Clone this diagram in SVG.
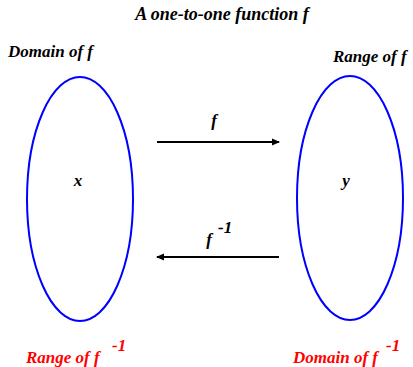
<svg xmlns="http://www.w3.org/2000/svg" width="413" height="367" viewBox="0 0 413 367">
<style>
text{font-family:"Liberation Serif","Times New Roman",serif;font-weight:bold;font-style:italic;font-size:17px;fill:#000}
.title{font-size:18px}
.red{fill:#ff0000}
.oval{fill:none;stroke:#0000ff;stroke-width:2}
.arr{stroke:#000;stroke-width:2;fill:none}
</style>
<defs>
<marker id="ah" markerWidth="8" markerHeight="8" refX="7" refY="4" orient="auto" markerUnits="userSpaceOnUse">
<path d="M0,0.5 L8,4 L0,7.5 Z" fill="#000"/>
</marker>
</defs>
<text class="title" x="222" y="20" text-anchor="middle">A one-to-one function f</text>
<g id="domain">
<ellipse class="oval" cx="80" cy="199" rx="53" ry="122"/>
<text x="8" y="57">Domain of f</text>
<text x="78" y="186" text-anchor="middle">x</text>
<text class="red" x="26" y="363">Range of  f</text>
<text class="red" x="112" y="351">-1</text>
</g>
<g id="range">
<ellipse class="oval" cx="350" cy="198" rx="53" ry="122"/>
<text x="333" y="62">Range of f</text>
<text x="346" y="186" text-anchor="middle">y</text>
<text class="red" x="293" y="363">Domain of f</text>
<text class="red" x="386" y="351">-1</text>
</g>
<g id="connectors">
<line class="arr" x1="157" y1="142" x2="279" y2="142" marker-end="url(#ah)"/>
<text x="214" y="126" text-anchor="middle">f</text>
<line class="arr" x1="279" y1="257" x2="157" y2="257" marker-end="url(#ah)"/>
<text x="209" y="245" text-anchor="middle">f</text>
<text x="218" y="233">-1</text>
</g>
</svg>
